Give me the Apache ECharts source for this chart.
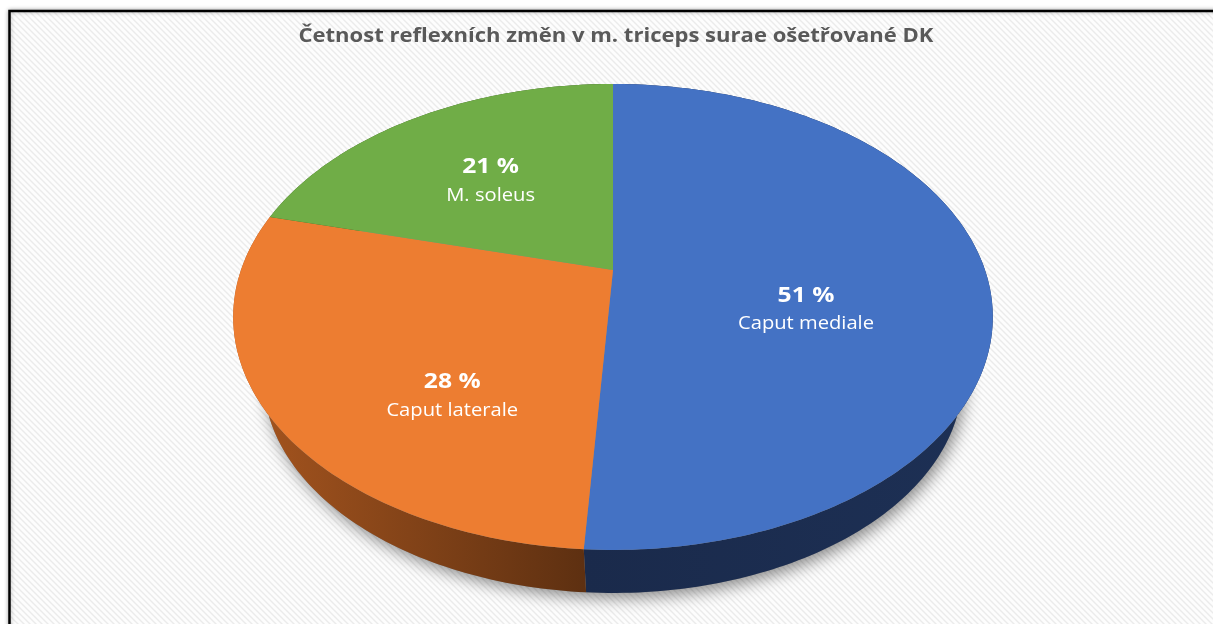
<!DOCTYPE html>
<html>
<head>
<meta charset="utf-8">
<script src="https://cdn.jsdelivr.net/npm/echarts@6/dist/echarts.min.js"></script>
<style>
  html, body { margin: 0; padding: 0; background: #ffffff; }
  #chart { width: 1213px; height: 624px; }
</style>
</head>
<body>
<div id="chart"></div>
<script>
// ---- chart data ----
const chartTitle = 'Četnost reflexních změn v m. triceps surae ošetřované DK';
const categories = ['Caput mediale', 'Caput laterale', 'M. soleus'];
const percentValues = [51, 28, 21];
const valueLabels = ['51 %', '28 %', '21 %'];

// ---- styling ----
const topColors = ['#4472C4', '#ED7D31', '#70AD47'];
const sideColors = [
  ['#1a2a4b', '#1d3055'],
  ['#a8561f', '#5e3011'],
  ['#3f6427', '#2f4b1d']
];
const fontFamily = '"Open Sans", "DejaVu Sans", sans-serif';

// perspective view of the tilted pie disc; the base disc is drawn
// slightly smaller and lower, as it sits further from the eye
const view = { cx: 613, cy: 270, sx: 372, sy: 223.5, k: 0.2016, shrink: 0.92, drop: 65.4 };
// where the slice labels sit, relative to the outline ellipse
const labelPlace = { fx: 0.515, fy: 0.67, dx: -2.5, dy: -12 };

const total = percentValues.reduce((a, b) => a + b, 0);
const startFractions = percentValues.map((v, i) =>
  percentValues.slice(0, i).reduce((a, b) => a + b, 0) / total);

// angle measured clockwise from 12 o'clock, r in [0, 1]
function project(r, th, lower) {
  const U = r * Math.sin(th);
  const V = r * Math.cos(th);
  const w = 1 + view.k * V;
  const px = view.cx + view.sx * U / w;
  const py = view.cy - view.sy * V / w;
  if (!lower) return [px, py];
  return [view.cx + view.shrink * (px - view.cx),
          view.cy + view.drop + view.shrink * (py - view.cy)];
}

function arc(a0, a1, lower) {
  const pts = [];
  const n = Math.max(2, Math.ceil((a1 - a0) / (Math.PI / 180)));
  for (let i = 0; i <= n; i++) pts.push(project(1, a0 + (a1 - a0) * i / n, lower));
  return pts;
}

// stripe fill for the plot background
function stripePattern() {
  const c = document.createElement('canvas');
  c.width = 6; c.height = 6;
  const g = c.getContext('2d');
  g.fillStyle = '#fdfdfd';
  g.fillRect(0, 0, 6, 6);
  g.strokeStyle = '#ebebeb';
  g.lineWidth = 1.4;
  g.beginPath();
  g.moveTo(-1, -1); g.lineTo(7, 7);
  g.moveTo(-1, 5); g.lineTo(1, 7);
  g.moveTo(5, -1); g.lineTo(7, 1);
  g.stroke();
  return c;
}

function renderSlice(params, api) {
  const i = params.dataIndex;
  const value = api.value(0);
  const a0 = startFractions[i] * 2 * Math.PI;
  const a1 = a0 + value / total * 2 * Math.PI;
  const children = [];

  if (i === 0) {
    // soft shadow beneath the whole disc
    children.push({
      type: 'polygon', z2: -1, silent: true,
      shape: { points: arc(0, 2 * Math.PI, true) },
      style: { fill: '#888', shadowBlur: 16, shadowColor: 'rgba(0,0,0,0.45)',
               shadowOffsetX: 3, shadowOffsetY: 5 }
    });
  }

  // outer side wall
  const upper = arc(a0, a1, false);
  const lowerPts = arc(a0, a1, true).reverse();
  const xs = upper.map(p => p[0]);
  children.push({
    type: 'polygon', z2: 0,
    shape: { points: upper.concat(lowerPts) },
    style: {
      fill: new echarts.graphic.LinearGradient(
        Math.min(...xs), 0, Math.max(...xs), 0,
        [{ offset: 0, color: sideColors[i][0] }, { offset: 1, color: sideColors[i][1] }],
        true)
    }
  });

  // top face
  children.push({
    type: 'polygon', z2: 10,
    shape: { points: [project(0, 0, false)].concat(upper) },
    style: { fill: topColors[i] }
  });

  // label inside the slice
  const topY = project(1, 0, false)[1];
  const botY = project(1, Math.PI, false)[1];
  const ecx = view.cx, ecy = (topY + botY) / 2;
  const rx = view.sx / Math.sqrt(1 - view.k * view.k);
  const ry = (botY - topY) / 2;
  const mid = (a0 + a1) / 2;
  children.push({
    type: 'text', z2: 20,
    x: ecx + labelPlace.dx + labelPlace.fx * rx * Math.sin(mid),
    y: ecy + labelPlace.dy - labelPlace.fy * ry * Math.cos(mid),
    scaleX: 1.12,
    style: {
      text: '{v|' + valueLabels[i] + '}\n{n|' + categories[i] + '}',
      align: 'center', verticalAlign: 'middle',
      rich: {
        v: { fontSize: 22, fontWeight: 'bold', fill: '#ffffff', fontFamily: fontFamily, lineHeight: 29, align: 'center' },
        n: { fontSize: 18, fill: '#ffffff', fontFamily: fontFamily, lineHeight: 29, align: 'center' }
      }
    }
  });

  return { type: 'group', children: children };
}

const chart = echarts.init(document.getElementById('chart'), null, { renderer: 'canvas' });
chart.setOption({
  animation: false,
  backgroundColor: '#ffffff',
  graphic: [{
    type: 'rect', z: -10, silent: true,
    shape: { x: 9.5, y: 11, width: 1400, height: 800 },
    style: {
      fill: { image: stripePattern(), repeat: 'repeat' },
      stroke: '#000000', lineWidth: 2.5,
      shadowBlur: 4, shadowColor: 'rgba(0,0,0,0.3)'
    }
  }, {
    // chart title
    type: 'text', z: 5, silent: true,
    x: 616, y: 37, scaleX: 1.16,
    style: {
      text: chartTitle, align: 'center', verticalAlign: 'middle',
      fontSize: 19, fontWeight: 'bold', fill: '#595959', fontFamily: fontFamily
    }
  }],
  series: [{
    type: 'custom',
    coordinateSystem: 'none',
    renderItem: renderSlice,
    data: percentValues.map((v, i) => ({ value: v, name: categories[i] }))
  }]
});
</script>
</body>
</html>
